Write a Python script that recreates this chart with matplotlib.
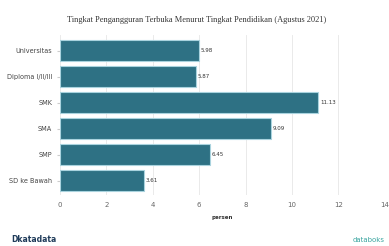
import matplotlib
matplotlib.use("Agg")
import matplotlib.pyplot as plt

categories = ["Universitas", "Diploma I/II/III", "SMK", "SMA", "SMP", "SD ke Bawah"]
values = [5.98, 5.87, 11.13, 9.09, 6.45, 3.61]
labels = ["5.98", "5.87", "11.13", "9.09", "6.45", "3.61"]
xticks = [0, 2, 4, 6, 8, 10, 12, 14]

fig = plt.figure(figsize=(3.89, 2.46), dpi=100)
ax = fig.add_axes([0.154, 0.207, 0.835, 0.651])

ypos = list(range(len(categories)))
ax.barh(ypos, values, height=0.8, color="#2e7184", edgecolor="#a9d3de", linewidth=0.8, zorder=3)
for y, v, t in zip(ypos, values, labels):
    ax.text(v + 0.08, y, t, va="center", ha="left", fontsize=4, color="#333333", zorder=4)

ax.set_yticks(ypos)
ax.set_yticklabels(categories, fontsize=4.7, color="#444444")
ax.set_ylim(len(categories) - 0.45, -0.6)
ax.set_xlim(0, 14)
ax.set_xticks(xticks)
ax.set_xticklabels([str(x) for x in xticks], fontsize=5, color="#666666")
ax.tick_params(axis="x", length=0, pad=5)
ax.tick_params(axis="y", length=2.5, color="#cccccc", pad=3)
ax.grid(axis="x", color="#e6e6e6", linewidth=0.6, zorder=0)
for s in ax.spines.values():
    s.set_visible(False)
ax.set_xlabel("persen", fontsize=4, fontweight="bold", color="#333333", labelpad=5)

fig.text(0.505, 0.92, "Tingkat Pengangguran Terbuka Menurut Tingkat Pendidikan (Agustus 2021)",
         ha="center", va="center", fontsize=6, family="Liberation Serif", color="#333333")
fig.text(0.03, 0.025, "Dkatadata", ha="left", va="center", fontsize=5.5, fontweight="bold", color="#1f3b5a")
fig.text(0.99, 0.025, "databoks", ha="right", va="center", fontsize=5, color="#3aa5a0")

fig.savefig("out.png", dpi=100)
